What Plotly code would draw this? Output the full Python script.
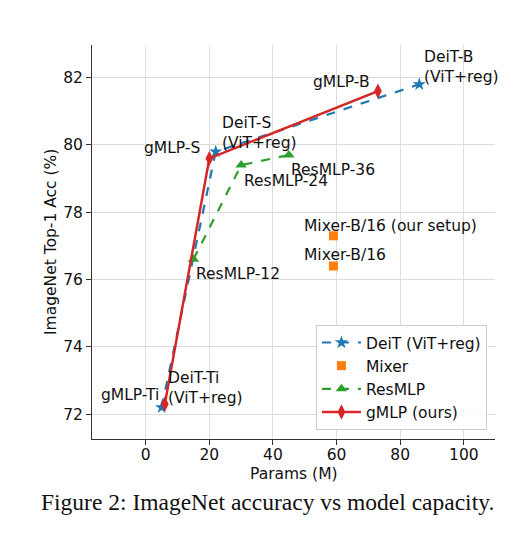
import plotly.graph_objects as go

# Data
deit_params = [5, 22, 86]
deit_acc = [72.2, 79.8, 81.8]
deit_labels = ["DeiT-Ti<br>(ViT+reg)", "DeiT-S<br>(ViT+reg)", "DeiT-B<br>(ViT+reg)"]

mixer_params = [59, 59]
mixer_acc = [77.3, 76.4]
mixer_labels = ["Mixer-B/16 (our setup)", "Mixer-B/16"]

resmlp_params = [15, 30, 45]
resmlp_acc = [76.6, 79.4, 79.7]
resmlp_labels = ["ResMLP-12", "ResMLP-24", "ResMLP-36"]

gmlp_params = [6, 20, 73]
gmlp_acc = [72.3, 79.6, 81.6]
gmlp_labels = ["gMLP-Ti", "gMLP-S", "gMLP-B"]

x_ticks = [0, 20, 40, 60, 80, 100]
y_ticks = [72, 74, 76, 78, 80, 82]

FONT = "DejaVu Sans"
FS = 15.5
fig = go.Figure()

fig.add_trace(go.Scatter(
    x=deit_params, y=deit_acc, name="DeiT (ViT+reg)", mode="lines+markers",
    line=dict(color="#1f77b4", width=2.2, dash="dash"),
    marker=dict(symbol="star", size=10, color="#1f77b4")))
fig.add_trace(go.Scatter(
    x=mixer_params, y=mixer_acc, name="Mixer", mode="markers",
    marker=dict(symbol="square", size=9, color="#ff7f0e")))
fig.add_trace(go.Scatter(
    x=resmlp_params, y=resmlp_acc, name="ResMLP", mode="lines+markers",
    line=dict(color="#2ca02c", width=2.2, dash="dash"),
    marker=dict(symbol="triangle-up", size=10, color="#2ca02c")))
fig.add_trace(go.Scatter(
    x=gmlp_params, y=gmlp_acc, name="gMLP (ours)", mode="lines+markers",
    line=dict(color="#d62728", width=2.5),
    marker=dict(symbol="diamond-tall", size=11, color="#d62728")))

# text annotations: (text, x, y, xanchor)
label_pos = [
    (deit_labels[2], 86.8, 82.32, "left"),
    (gmlp_labels[2], 71.0, 81.88, "right"),
    (deit_labels[1], 23.3, 80.36, "left"),
    (gmlp_labels[1], 17.7, 79.9, "right"),
    (resmlp_labels[1], 30.2, 78.94, "left"),
    (resmlp_labels[2], 45.1, 79.26, "left"),
    (resmlp_labels[0], 15.2, 76.17, "left"),
    (mixer_labels[0], 49.0, 77.59, "left"),
    (mixer_labels[1], 49.0, 76.73, "left"),
    (gmlp_labels[0], 4.7, 72.57, "right"),
    (deit_labels[0], 6.4, 72.78, "left"),
]
annotations = []
for t, x, y, xa in label_pos:
    annotations.append(dict(text=t, x=x, y=y, xref="x", yref="y", xanchor=xa,
                            yanchor="middle", showarrow=False, align="left",
                            font=dict(family=FONT, size=FS, color="#111")))

annotations.append(dict(text="Params (M)", x=0.5, y=0, xref="paper", yref="paper",
                        yshift=-34.5, yanchor="middle", showarrow=False,
                        font=dict(family=FONT, size=FS, color="#111")))
annotations.append(dict(text="ImageNet Top-1 Acc (%)", x=0, y=0.5, xref="paper", yref="paper",
                        xshift=-41, xanchor="center", textangle=-90, showarrow=False,
                        font=dict(family=FONT, size=FS, color="#111")))
annotations.append(dict(text="Figure 2: ImageNet accuracy vs model capacity.", x=0.435, y=0,
                        xref="paper", yref="paper", yshift=-63, yanchor="middle",
                        showarrow=False,
                        font=dict(family="Liberation Serif", size=23.5, color="#111")))

axis_common = dict(showgrid=True, gridcolor="#dddddd", gridwidth=1, zeroline=False,
                   showline=True, linecolor="#333", linewidth=1, ticks="outside",
                   ticklen=5, tickcolor="#333", mirror=False,
                   tickfont=dict(family=FONT, size=FS, color="#111"))

fig.update_layout(
    width=512, height=540,
    margin=dict(l=84, r=25, t=37, b=109),
    paper_bgcolor="white", plot_bgcolor="white",
    showlegend=True,
    legend=dict(x=0.98, y=0.023, xanchor="right", yanchor="bottom", itemwidth=39,
                bgcolor="rgba(255,255,255,0.9)", bordercolor="#cccccc", borderwidth=1,
                font=dict(family=FONT, size=FS, color="#111"), tracegroupgap=0),
    xaxis=dict(range=[-16.9, 109.8], tickvals=x_ticks, ticktext=[str(v) for v in x_ticks],
               ticklabelstandoff=-4, **axis_common),
    yaxis=dict(range=[71.26, 82.97], tickvals=y_ticks, ticktext=[str(v) for v in y_ticks],
               **axis_common),
    annotations=annotations,
)

fig.write_html("out.html")
